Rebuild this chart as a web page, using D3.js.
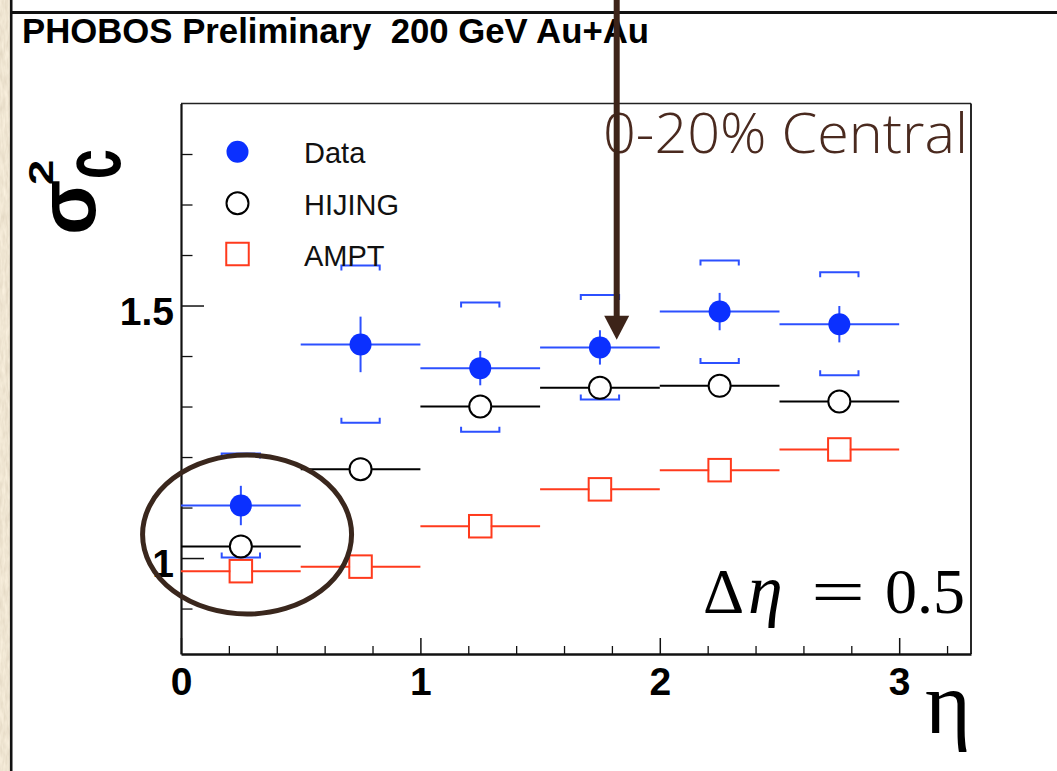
<!DOCTYPE html>
<html>
<head>
<meta charset="utf-8">
<script src="https://cdn.jsdelivr.net/npm/d3@7"></script>
<style>
  html, body { margin: 0; padding: 0; background: #fff; }
  svg { display: block; }
</style>
</head>
<body>
<script>
// Bin centres in pseudorapidity and the half-width of each bin
const eta = [0.25, 0.75, 1.25, 1.75, 2.25, 2.75];
const binHalfWidth = 0.25;

// PHOBOS data: value, statistical error and systematic band edges
const dataValue = [1.104, 1.423, 1.376, 1.417, 1.488, 1.463];
const dataStat  = [0.039, 0.055, 0.034, 0.034, 0.037, 0.036];
const sysUpper  = [1.207, 1.579, 1.506, 1.521, 1.589, 1.566];
const sysLower  = [1.001, 1.268, 1.250, 1.314, 1.386, 1.362];

// Model predictions
const hijingValue = [1.023, 1.176, 1.300, 1.337, 1.341, 1.310];
const amptValue   = [0.974, 0.983, 1.063, 1.136, 1.174, 1.215];

// Axis ticks
const xMajorTicks = [0, 1, 2, 3];
const xTickLabels = ["0", "1", "2", "3"];
const yMajorTicks = [1.0, 1.5];
const yTickLabels = ["1", "1.5"];

const legendLabels = ["Data", "HIJING", "AMPT"];

// Annotations in data units
const arrowTip = { eta: 1.82, value: 1.432 };
const ring = { eta: 0.276, value: 1.0465, rEta: 0.4365, rValue: 0.1574 };

const W = 1057, H = 771;
const BLUE = "#0b30ff", BLUE_LINE = "#2c50ff", RED = "#ff3a1c", BROWN = "#3d2419";

const svg = d3.select("body").append("svg")
  .attr("width", W).attr("height", H)
  .attr("viewBox", `0 0 ${W} ${H}`);

// Parchment strip on the left edge
const defs = svg.append("defs");
const flt = defs.append("filter").attr("id", "paper")
  .attr("x", 0).attr("y", 0).attr("width", 1).attr("height", 1);
flt.append("feTurbulence").attr("type", "fractalNoise")
  .attr("baseFrequency", "0.35 0.08").attr("numOctaves", 3).attr("seed", 4);
flt.append("feColorMatrix").attr("type", "matrix")
  .attr("values", "0.25 0 0 0 0.74  0.25 0 0 0 0.66  0.25 0 0 0 0.52  0 0 0 0 1");
flt.append("feComposite").attr("in2", "SourceGraphic").attr("operator", "in");

svg.append("rect").attr("x", 0).attr("y", 0).attr("width", 10).attr("height", H)
  .attr("fill", "#d9c39d").attr("filter", "url(#paper)");
svg.append("line").attr("x1", 11.2).attr("x2", 11.2).attr("y1", 0).attr("y2", H)
  .attr("stroke", "#111").attr("stroke-width", 2.6);
svg.append("line").attr("x1", 10).attr("x2", W).attr("y1", 12.5).attr("y2", 12.5)
  .attr("stroke", "#111").attr("stroke-width", 3);

// Title
svg.append("text").attr("x", 22).attr("y", 43)
  .attr("font-family", "Liberation Sans, Arial, sans-serif")
  .attr("font-weight", "bold").attr("font-size", 35)
  .attr("fill", "#000").attr("xml:space", "preserve")
  .attr("textLength", 627).attr("lengthAdjust", "spacingAndGlyphs")
  .text("PHOBOS Preliminary  200 GeV Au+Au");

// Scales
const x = d3.scaleLinear().domain([0, 3.3]).range([181, 971]);
const y = d3.scaleLinear().domain([0.81, 1.9]).range([654, 103.5]);
const [x0, x1] = x.range();
const [yB, yT] = y.range();

// Frame (top and right)
svg.append("line").attr("x1", x0).attr("x2", x1).attr("y1", yT).attr("y2", yT)
  .attr("stroke", "#222").attr("stroke-width", 1.3);
svg.append("line").attr("x1", x1).attr("x2", x1).attr("y1", yT).attr("y2", yB)
  .attr("stroke", "#111").attr("stroke-width", 1.8);

// X axis: minor ticks, then labelled major ticks
const xMinor = d3.range(0, 3.3, 0.2).map(v => +v.toFixed(2)).filter(v => !xMajorTicks.includes(v));
svg.append("g").attr("transform", `translate(0,${yB})`)
  .call(d3.axisBottom(x).tickValues(xMinor).tickSize(-8).tickSizeOuter(0).tickFormat(""))
  .call(g => g.selectAll("line").attr("stroke", "#111").attr("stroke-width", 1.3))
  .call(g => g.select(".domain").remove());
const gx = svg.append("g").attr("transform", `translate(0,${yB})`)
  .call(d3.axisBottom(x).tickValues(xMajorTicks).tickSize(-16).tickSizeOuter(0)
    .tickPadding(13).tickFormat((d, i) => xTickLabels[i]));
gx.select(".domain").attr("stroke", "#111").attr("stroke-width", 2.4);
gx.selectAll(".tick line").attr("stroke", "#111").attr("stroke-width", 1.5);
gx.selectAll("text").attr("font-family", "Liberation Sans, Arial, sans-serif")
  .attr("font-weight", "bold").attr("font-size", 39).attr("fill", "#000");

// Y axis
const yMinor = d3.range(0.9, 1.85, 0.1).map(v => +v.toFixed(2)).filter(v => !yMajorTicks.includes(v));
svg.append("g").attr("transform", `translate(${x0},0)`)
  .call(d3.axisLeft(y).tickValues(yMinor).tickSize(-11.5).tickSizeOuter(0).tickFormat(""))
  .call(g => g.selectAll("line").attr("stroke", "#111").attr("stroke-width", 1.3))
  .call(g => g.select(".domain").remove());
const gy = svg.append("g").attr("transform", `translate(${x0},0)`)
  .call(d3.axisLeft(y).tickValues(yMajorTicks).tickSize(-23).tickSizeOuter(0)
    .tickPadding(7).tickFormat((d, i) => yTickLabels[i]));
gy.select(".domain").attr("stroke", "#111").attr("stroke-width", 2.2);
gy.selectAll(".tick line").attr("stroke", "#111").attr("stroke-width", 1.5);
gy.selectAll("text").attr("font-family", "Liberation Sans, Arial, sans-serif")
  .attr("font-weight", "bold").attr("font-size", 39).attr("fill", "#000")
  .attr("dy", "0.48em");

// Axis titles
svg.append("text").attr("x", 971).attr("y", 733).attr("text-anchor", "end")
  .attr("font-family", "Liberation Serif, Times New Roman, serif")
  .attr("font-size", 88).attr("fill", "#000").text("η");

const yTitle = svg.append("g").attr("transform", "translate(95,235) rotate(-90)")
  .attr("font-family", "Liberation Sans, Arial, sans-serif").attr("font-weight", "bold")
  .attr("fill", "#000");
yTitle.append("text").attr("x", 0).attr("y", 0).attr("font-size", 81).text("σ");
yTitle.append("g").attr("transform", "translate(50,-42) scale(1.3,1)")
  .append("text").attr("font-size", 35).text("2");
yTitle.append("g").attr("transform", "translate(56,25) scale(0.66,1)")
  .append("text").attr("font-size", 81).text("c");

// Systematic brackets for the data
const bw = 0.08, tick = 5;
const brackets = svg.append("g").attr("fill", "none").attr("stroke", BLUE_LINE).attr("stroke-width", 2);
eta.forEach((e, i) => {
  const xl = x(e - bw), xr = x(e + bw);
  const yu = y(sysUpper[i]), yl = y(sysLower[i]);
  brackets.append("path").attr("d", `M${xl},${yu + tick}V${yu}H${xr}V${yu + tick}`);
  brackets.append("path").attr("d", `M${xl},${yl - tick}V${yl}H${xr}V${yl - tick}`);
});

// Horizontal bin-width bars, broken around the open markers
function binBars(values, color, gap) {
  const g = svg.append("g").attr("stroke", color).attr("stroke-width", 2);
  eta.forEach((e, i) => {
    const cx = x(e), cy = y(values[i]);
    g.append("line").attr("x1", x(e - binHalfWidth)).attr("x2", cx - gap).attr("y1", cy).attr("y2", cy);
    g.append("line").attr("x1", cx + gap).attr("x2", x(e + binHalfWidth)).attr("y1", cy).attr("y2", cy);
  });
}
binBars(amptValue, RED, 10.5);
binBars(hijingValue, "#000", 11);
binBars(dataValue, BLUE_LINE, 0);

// Data statistical errors
svg.append("g").attr("stroke", BLUE_LINE).attr("stroke-width", 2)
  .selectAll("line").data(eta).join("line")
  .attr("x1", d => x(d)).attr("x2", d => x(d))
  .attr("y1", (d, i) => y(dataValue[i] + dataStat[i]))
  .attr("y2", (d, i) => y(dataValue[i] - dataStat[i]));

// Markers
const SQ = 22.5;
svg.append("g").selectAll("rect").data(eta).join("rect")
  .attr("x", d => x(d) - SQ / 2).attr("y", (d, i) => y(amptValue[i]) - SQ / 2)
  .attr("width", SQ).attr("height", SQ)
  .attr("fill", "none").attr("stroke", RED).attr("stroke-width", 2);
svg.append("g").selectAll("circle").data(eta).join("circle")
  .attr("cx", d => x(d)).attr("cy", (d, i) => y(hijingValue[i])).attr("r", 11)
  .attr("fill", "none").attr("stroke", "#000").attr("stroke-width", 2);
svg.append("g").selectAll("circle").data(eta).join("circle")
  .attr("cx", d => x(d)).attr("cy", (d, i) => y(dataValue[i])).attr("r", 11)
  .attr("fill", BLUE);

// Legend
const legY = [151.7, 203.3, 254];
const leg = svg.append("g");
leg.append("circle").attr("cx", 237.5).attr("cy", legY[0]).attr("r", 11).attr("fill", BLUE);
leg.append("circle").attr("cx", 237.5).attr("cy", legY[1]).attr("r", 11)
  .attr("fill", "none").attr("stroke", "#000").attr("stroke-width", 2);
leg.append("rect").attr("x", 237.5 - SQ / 2).attr("y", legY[2] - SQ / 2)
  .attr("width", SQ).attr("height", SQ)
  .attr("fill", "none").attr("stroke", RED).attr("stroke-width", 2);
leg.selectAll("text").data(legendLabels).join("text")
  .attr("x", 304).attr("y", (d, i) => legY[i] + 11.5)
  .attr("font-family", "Liberation Sans, Arial, sans-serif")
  .attr("font-size", 29).attr("fill", "#111").text(d => d);

// Centrality label and bin size
svg.append("text").attr("x", 603).attr("y", 153)
  .attr("font-family", "Open Sans, Lato, sans-serif").attr("font-weight", 300)
  .attr("font-size", 56).attr("fill", "#4a2a1f")
  .attr("textLength", 365).attr("lengthAdjust", "spacingAndGlyphs")
  .text("0-20% Central");

const dl = svg.append("g")
  .attr("font-family", "Liberation Serif, DejaVu Serif, serif")
  .attr("font-size", 64).attr("fill", "#000");
dl.append("text").attr("x", 703).attr("y", 613).text("Δ");
dl.append("text").attr("x", 748).attr("y", 613).attr("font-style", "italic").attr("font-size", 70).text("η");
dl.append("g").attr("transform", "translate(811,613) scale(1.5,1)")
  .append("text").text("=");
dl.append("text").attr("x", 965).attr("y", 613).attr("text-anchor", "end").text("0.5");

// Highlight ring around the first bin
svg.append("ellipse")
  .attr("cx", x(ring.eta)).attr("cy", y(ring.value))
  .attr("rx", x(ring.eta + ring.rEta) - x(ring.eta))
  .attr("ry", y(ring.value) - y(ring.value + ring.rValue))
  .attr("fill", "none").attr("stroke", "#3a271d").attr("stroke-width", 5);

// Arrow pointing at the fourth bin
const ax = x(arrowTip.eta), ay = y(arrowTip.value);
svg.append("line").attr("x1", ax).attr("x2", ax).attr("y1", 0).attr("y2", ay - 20)
  .attr("stroke", BROWN).attr("stroke-width", 6);
svg.append("path")
  .attr("d", `M${ax - 12.5},${ay - 24}L${ax + 12.5},${ay - 24}L${ax},${ay}Z`)
  .attr("fill", BROWN);
</script>
</body>
</html>
